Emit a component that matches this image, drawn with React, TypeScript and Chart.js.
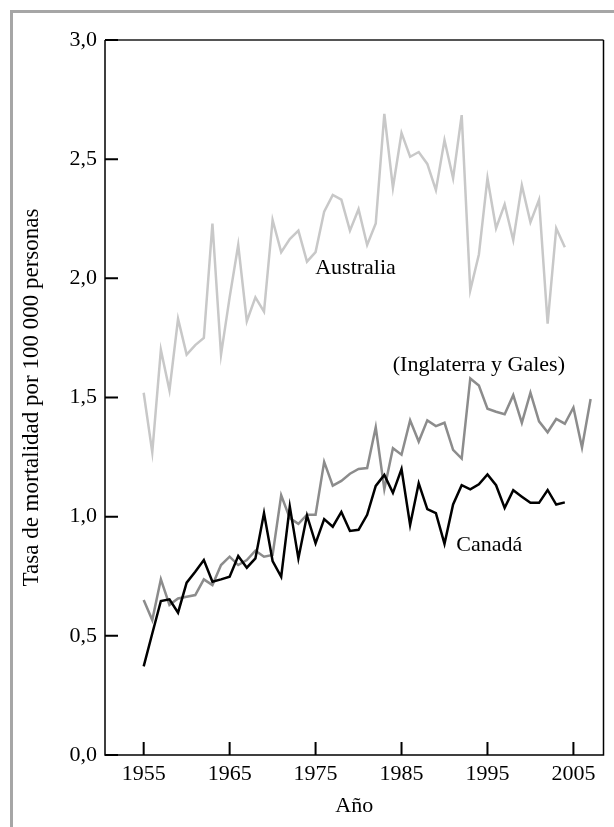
import React, { useEffect, useRef } from "react";
import { Chart, registerables } from "chart.js";

Chart.register(...registerables);

const australiaYears: number[] = [
  1955, 1956, 1957, 1958, 1959, 1960, 1961, 1962, 1963, 1964,
  1965, 1966, 1967, 1968, 1969, 1970, 1971, 1972, 1973, 1974,
  1975, 1976, 1977, 1978, 1979, 1980, 1981, 1982, 1983, 1984,
  1985, 1986, 1987, 1988, 1989, 1990, 1991, 1992, 1993, 1994,
  1995, 1996, 1997, 1998, 1999, 2000, 2001, 2002, 2003, 2004,
];
const australiaValues: number[] = [
  1.52, 1.27, 1.70, 1.53, 1.83, 1.68, 1.72, 1.75, 2.23, 1.68,
  1.92, 2.14, 1.82, 1.92, 1.86, 2.245, 2.11, 2.165, 2.20, 2.07,
  2.11, 2.28, 2.35, 2.33, 2.20, 2.29, 2.14, 2.23, 2.69, 2.38,
  2.61, 2.51, 2.53, 2.48, 2.37, 2.58, 2.42, 2.685, 1.95, 2.10,
  2.42, 2.21, 2.31, 2.16, 2.39, 2.235, 2.33, 1.81, 2.21, 2.13,
];

const englandYears: number[] = [
  1955, 1956, 1957, 1958, 1959, 1960, 1961, 1962, 1963, 1964,
  1965, 1966, 1967, 1968, 1969, 1970, 1971, 1972, 1973, 1974,
  1975, 1976, 1977, 1978, 1979, 1980, 1981, 1982, 1983, 1984,
  1985, 1986, 1987, 1988, 1989, 1990, 1991, 1992, 1993, 1994,
  1995, 1996, 1997, 1998, 1999, 2000, 2001, 2002, 2003, 2004,
  2005, 2006, 2007,
];
const englandValues: number[] = [
  0.65, 0.566, 0.737, 0.63, 0.657, 0.664, 0.671, 0.737, 0.713, 0.797,
  0.832, 0.797, 0.818, 0.857, 0.832, 0.839, 1.09, 0.994, 0.97, 1.008,
  1.008, 1.23, 1.13, 1.15, 1.18, 1.20, 1.204, 1.375, 1.115, 1.287,
  1.26, 1.404, 1.315, 1.404, 1.38, 1.394, 1.28, 1.244, 1.58, 1.55,
  1.453, 1.44, 1.43, 1.51, 1.394, 1.52, 1.40, 1.354, 1.41, 1.39,
  1.458, 1.29, 1.494,
];

const canadaYears: number[] = australiaYears;
const canadaValues: number[] = [
  0.372, 0.51, 0.646, 0.653, 0.597, 0.723, 0.769, 0.818, 0.727, 0.737,
  0.748, 0.835, 0.786, 0.825, 1.015, 0.814, 0.748, 1.043, 0.825, 1.005,
  0.888, 0.99, 0.958, 1.02, 0.94, 0.945, 1.008, 1.129, 1.175, 1.10,
  1.20, 0.965, 1.14, 1.032, 1.015, 0.886, 1.051, 1.132, 1.115, 1.136,
  1.177, 1.132, 1.037, 1.111, 1.084, 1.058, 1.058, 1.112, 1.051, 1.06,
];

const xTickYears: number[] = [1955, 1965, 1975, 1985, 1995, 2005];
const yTickValues: number[] = [0, 0.5, 1.0, 1.5, 2.0, 2.5, 3.0];

const seriesLabels: string[] = ["Australia", "(Inglaterra y Gales)", "Canadá"];
// label anchor positions in data coordinates [year, value]
const labelYears: number[] = [1979.65, 1994.0, 1995.2];
const labelValues: number[] = [2.044, 1.635, 0.882];

const xTitle = "Año";
const yTitle = "Tasa de mortalidad por 100 000 personas";

const FONT = "'Liberation Serif', 'Times New Roman', serif";

const toPoints = (xs: number[], ys: number[]) => ys.map((v, i) => ({ x: xs[i], y: v }));

const framePlugin = {
  id: "framePlugin",
  afterDatasetsDraw(chart: any) {
    const { ctx, chartArea } = chart;
    const { left, right, top, bottom } = chartArea;
    const xs = chart.scales.x;
    const ys = chart.scales.y;
    ctx.save();
    ctx.lineCap = "butt";
    ctx.lineWidth = 2;
    ctx.strokeStyle = "#555555";
    ctx.beginPath();
    ctx.moveTo(left, top);
    ctx.lineTo(right, top);
    ctx.stroke();
    ctx.strokeStyle = "#000000";
    ctx.lineWidth = 1.5;
    ctx.beginPath();
    ctx.moveTo(left, top);
    ctx.lineTo(left, bottom);
    ctx.lineTo(right, bottom);
    ctx.lineTo(right, top);
    ctx.stroke();
    ctx.lineWidth = 2;
    ctx.strokeStyle = "#000000";
    ctx.beginPath();
    yTickValues.forEach((v) => {
      const py = ys.getPixelForValue(v);
      ctx.moveTo(left, py);
      ctx.lineTo(left + 13, py);
    });
    xTickYears.forEach((yr) => {
      const px = xs.getPixelForValue(yr);
      ctx.moveTo(px, bottom);
      ctx.lineTo(px, bottom - 13);
    });
    ctx.stroke();
    ctx.fillStyle = "#000000";
    ctx.font = `22px ${FONT}`;
    ctx.textAlign = "center";
    ctx.textBaseline = "middle";
    seriesLabels.forEach((t, i) => {
      ctx.fillText(t, xs.getPixelForValue(labelYears[i]), ys.getPixelForValue(labelValues[i]));
    });
    ctx.restore();
  },
};

export default function App() {
  const canvasRef = useRef<HTMLCanvasElement | null>(null);

  useEffect(() => {
    if (!canvasRef.current) return;
    const chart = new Chart(canvasRef.current, {
      type: "line",
      data: {
        datasets: [
          {
            label: seriesLabels[2],
            data: toPoints(canadaYears, canadaValues),
            borderColor: "#000000",
            borderWidth: 2.5,
            pointRadius: 0,
            tension: 0,
            order: 0,
          },
          {
            label: seriesLabels[1],
            data: toPoints(englandYears, englandValues),
            borderColor: "#8c8c8c",
            borderWidth: 2.5,
            pointRadius: 0,
            tension: 0,
            order: 1,
          },
          {
            label: seriesLabels[0],
            data: toPoints(australiaYears, australiaValues),
            borderColor: "#c8c8c8",
            borderWidth: 2.5,
            pointRadius: 0,
            tension: 0,
            order: 2,
          },
        ],
      },
      options: {
        responsive: false,
        animation: false,
        devicePixelRatio: 1,
        layout: { padding: { left: 0, top: 40, right: 10.5, bottom: 0 } },
        plugins: {
          legend: { display: false },
          tooltip: { enabled: false },
        },
        scales: {
          x: {
            type: "linear",
            min: 1950.5,
            max: 2008.5,
            border: { display: false },
            grid: { display: false, drawTicks: false },
            afterBuildTicks: (scale: any) => {
              scale.ticks = xTickYears.map((v) => ({ value: v }));
            },
            afterFit: (scale: any) => {
              scale.height = 72;
            },
            ticks: {
              autoSkip: false,
              maxRotation: 0,
              padding: 6,
              color: "#000000",
              font: { family: FONT, size: 22 },
              callback: (v: any) => String(v),
            },
            title: {
              display: true,
              text: xTitle,
              color: "#000000",
              font: { family: FONT, size: 22 },
              padding: { top: 0, bottom: 8 },
            },
          },
          y: {
            type: "linear",
            min: 0,
            max: 3,
            border: { display: false },
            grid: { display: false, drawTicks: false },
            afterBuildTicks: (scale: any) => {
              scale.ticks = yTickValues.map((v) => ({ value: v }));
            },
            afterFit: (scale: any) => {
              scale.width = 105;
            },
            ticks: {
              autoSkip: false,
              padding: 8,
              color: "#000000",
              font: { family: FONT, size: 22 },
              callback: (v: any) => Number(v).toFixed(1).replace(".", ","),
            },
            title: {
              display: true,
              text: yTitle,
              color: "#000000",
              font: { family: FONT, size: 23 },
              padding: { top: 18, bottom: 0 },
            },
          },
        },
      },
      plugins: [framePlugin],
    } as any);
    return () => chart.destroy();
  }, []);

  return (
    <div
      style={{
        position: "fixed",
        left: 0,
        top: 0,
        width: 614,
        height: 827,
        overflow: "hidden",
        background: "#ffffff",
      }}
    >
      <div
        style={{
          position: "absolute",
          left: 10,
          top: 10,
          width: 700,
          height: 900,
          borderLeft: "3px solid #a6a6a6",
          borderTop: "3px solid #a6a6a6",
        }}
      />
      <canvas
        ref={canvasRef}
        width={614}
        height={827}
        style={{ position: "absolute", left: 0, top: 0, display: "block" }}
      />
    </div>
  );
}
